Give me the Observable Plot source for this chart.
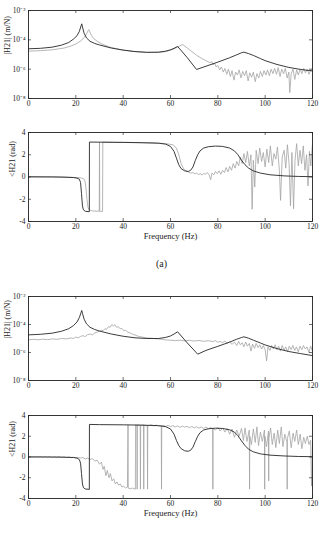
<!DOCTYPE html>
<html><head><meta charset="utf-8">
<script src="https://cdn.jsdelivr.net/npm/d3@7"></script>
<script src="https://cdn.jsdelivr.net/npm/@observablehq/plot@0.6"></script>
<style>
body{margin:0;background:#fff;width:323px;height:538px;position:relative;overflow:hidden;font-family:"Liberation Serif","Times New Roman",serif}
.p{position:absolute;left:0}
svg, svg text{font-family:"Liberation Serif","Times New Roman",serif !important}
#lab{position:absolute;left:0;width:323px;text-align:center;top:258px;font-size:10px;line-height:12px;color:#222}
</style></head><body>
<div id="c1" class="p" style="top:0px"></div>
<div id="c2" class="p" style="top:122px"></div>
<div id="lab">(a)</div>
<div id="c3" class="p" style="top:286px"></div>
<div id="c4" class="p" style="top:405px"></div>
<script>
// Frequency ticks (Hz)
const xTicks = [0, 20, 40, 60, 80, 100, 120];
// magnitude ticks (m/N) and labels
const magTicks = [1e-8, 1e-6, 1e-4, 1e-2];
const magTickLabels = ["10\u207B\u2078", "10\u207B\u2076", "10\u207B\u2074", "10\u207B\u00B2"];
// phase ticks (rad)
const phaseTicks = [-4, -2, 0, 2, 4];

// (a) magnitude, log10 of |H21| in m/N : [Hz, log10]
const magA_model = [[0,-4.61],[5,-4.58],[10,-4.50],[14,-4.36],[17,-4.18],[19,-3.95],[20.5,-3.72],[21.5,-3.42],[22.2,-3.05],[22.5,-2.91],[22.8,-3.12],[23.5,-3.55],[24.5,-3.87],[26,-4.10],[28,-4.25],[30,-4.35],[35,-4.56],[40,-4.70],[45,-4.80],[50,-4.85],[55,-4.84],[58,-4.77],[60,-4.68],[61.5,-4.58],[63,-4.45],[67,-5.2],[71,-6.02],[75,-5.80],[80,-5.52],[85,-5.22],[88,-5.02],[90,-4.88],[91,-4.84],[93,-4.94],[95,-5.06],[98,-5.28],[100,-5.42],[105,-5.68],[110,-5.88],[115,-6.02],[120,-6.12]];
const magA_test = [[0,-4.77],[5,-4.74],[10,-4.68],[15,-4.56],[18,-4.42],[20,-4.28],[22,-4.08],[23.5,-3.85],[24.5,-3.6],[25.2,-3.38],[25.5,-3.3],[25.9,-3.45],[26.6,-3.7],[27.5,-3.9],[29,-4.1],[31,-4.28],[34,-4.48],[37,-4.60],[40,-4.70],[45,-4.80],[50,-4.86],[55,-4.86],[58,-4.80],[61,-4.65],[63,-4.50],[64.5,-4.36],[65.3,-4.33],[67,-4.55],[69,-4.80],[71,-5.05],[73,-5.25],[75,-5.42],[76.5,-5.55],[77.5,-5.5],[78,-5.7],[78.7,-5.6],[79.3,-5.85],[80,-5.75],[80.8,-6.05],[81.5,-5.85],[82.3,-6.2],[83,-5.95],[83.8,-6.35],[84.5,-6.0],[85.3,-6.5],[86,-6.1],[86.8,-6.75],[87.5,-6.2],[88.3,-6.4],[89,-6.05],[89.8,-6.6],[90.5,-6.15],[91.3,-6.45],[92,-6.1],[92.8,-6.8],[93.5,-6.25],[94.3,-6.55],[95,-6.2],[95.8,-6.85],[96.5,-6.3],[97.3,-6.6],[98,-6.15],[98.8,-6.5],[99.5,-6.1],[100.3,-6.4],[101,-6.05],[101.8,-6.45],[102.5,-6.0],[103.3,-6.3],[104,-5.95],[104.8,-6.35],[105.5,-5.9],[106.3,-6.5],[107,-6.0],[107.8,-6.3],[108.5,-5.95],[109.3,-6.6],[110,-6.2],[110.4,-7.6],[111,-6.3],[111.8,-6.0],[112.5,-6.7],[113.3,-6.05],[114,-6.4],[114.8,-6.0],[115.5,-6.3],[116.3,-5.95],[117,-6.25],[117.8,-6.0],[118.5,-6.35],[119.3,-6.05],[120,-6.1]];

// (a) phase (rad)
const phA_model = [[0,0.02],[10,0.01],[15,-0.01],[19,-0.05],[20.5,-0.1],[21.5,-0.2],[22,-0.5],[22.4,-1.5],[22.8,-2.6],[23.2,-2.95],[24,-3.08],[25.7,-3.12],[25.75,3.14],[30,3.13],[40,3.11],[48,3.08],[55,3.04],[58,2.95],[60,2.75],[61.5,2.3],[62.5,1.7],[63.5,1.1],[64.5,0.75],[66,0.55],[67.5,0.5],[68.5,0.6],[69.5,0.9],[70.5,1.5],[71.5,2.0],[72.5,2.35],[74,2.6],[76,2.72],[79,2.78],[82,2.75],[85,2.6],[87,2.35],[88.5,2.0],[90,1.5],[91.5,1.1],[93,0.8],[95,0.55],[98,0.35],[102,0.2],[108,0.1],[114,0.05],[120,0.03]];
const phA_test = [[0,0.0],[10,-0.01],[18,-0.03],[22,-0.07],[23.3,-0.15],[23.9,-0.4],[24.3,-1.0],[24.7,-2.0],[25.1,-2.7],[25.6,-2.95],[27,-3.05],[29.9,-3.08],[30.0,3.14],[30.1,-3.08],[31.3,-3.1],[31.4,3.14],[36,3.12],[45,3.1],[52,3.07],[58,3.0],[61,2.9],[62.5,2.6],[63.5,2.0],[64.5,1.2],[65.5,0.75],[66.5,0.55],[67.5,0.45],[68.5,0.35],[69.5,0.4],[70.3,0.28],[71,0.35],[71.8,0.22],[72.5,0.3],[73.3,0.18],[74,0.32],[74.8,0.25],[75.5,0.4],[76.3,0.2],[77,-0.25],[77.5,0.35],[78.3,0.2],[79,0.5],[79.8,0.3],[80.5,0.55],[81.3,0.25],[82,0.6],[82.8,0.4],[83.5,0.85],[84.3,0.45],[85,0.95],[85.8,0.6],[86.5,1.2],[87.3,0.8],[88,1.4],[88.8,1.0],[89.5,1.8],[90.3,1.2],[91,2.1],[91.8,1.3],[92.5,2.3],[93.3,1.0],[94,2.0],[94.5,-2.9],[95,1.5],[95.6,-0.9],[96.2,2.4],[97,1.2],[97.7,2.6],[98.5,1.4],[99.2,2.2],[100,0.9],[100.7,2.5],[101.5,1.3],[102.2,2.8],[103,1.0],[103.7,2.1],[104.5,1.6],[105.2,2.7],[106,0.6],[106.5,-2.1],[107.2,1.8],[108,2.4],[108.7,0.8],[109.4,2.9],[110.1,1.2],[110.7,-2.6],[111.3,2.2],[112,-2.85],[112.6,1.5],[113.3,3.0],[114,1.0],[114.7,2.4],[115.4,1.2],[116.1,2.8],[116.8,0.6],[117.5,2.0],[118.1,-0.8],[118.7,2.3],[119.3,1.0],[120,3.0]];

// (b) magnitude, log10
const magB_model = [[0,-4.74],[5,-4.7],[10,-4.62],[14,-4.48],[17,-4.3],[19,-4.08],[20.5,-3.82],[21.5,-3.5],[22.2,-3.15],[22.5,-3.0],[22.8,-3.2],[23.5,-3.62],[24.5,-3.95],[26,-4.2],[28,-4.36],[30,-4.47],[35,-4.68],[40,-4.84],[45,-4.95],[50,-5.0],[55,-5.0],[58,-4.92],[60,-4.82],[61.5,-4.68],[63,-4.52],[67,-5.3],[71.5,-6.12],[75,-5.85],[80,-5.56],[85,-5.26],[88,-5.05],[90,-4.93],[91,-4.88],[93,-4.98],[95,-5.12],[98,-5.32],[100,-5.46],[105,-5.72],[110,-5.93],[115,-6.08],[120,-6.22]];
const magB_test = [[0,-5.1],[2,-5.06],[4,-5.09],[6,-5.05],[8,-5.08],[10,-5.03],[12,-5.06],[14,-5.0],[16,-5.03],[18,-4.96],[19,-5.0],[20,-4.9],[21,-4.95],[22,-4.85],[23,-4.8],[24,-4.86],[25,-4.72],[26,-4.68],[27,-4.74],[28,-4.6],[29,-4.55],[30,-4.48],[30.8,-4.4],[31.5,-4.45],[32.3,-4.3],[33,-4.35],[33.8,-4.15],[34.5,-4.2],[35.2,-4.0],[35.8,-4.1],[36.5,-4.02],[37.2,-4.2],[38,-4.15],[38.8,-4.32],[39.5,-4.28],[40.3,-4.45],[41,-4.42],[42,-4.55],[43,-4.6],[44,-4.7],[45,-4.75],[46,-4.82],[47,-4.86],[48,-4.9],[50,-4.96],[52,-4.98],[54,-5.02],[56,-5.05],[58,-5.1],[60,-5.12],[62,-5.15],[64,-5.12],[66,-5.17],[68,-5.13],[70,-5.18],[72,-5.14],[74,-5.2],[76,-5.16],[78,-5.22],[79,-5.15],[80,-5.28],[81,-5.2],[82,-5.3],[83,-5.18],[84,-5.35],[85,-5.22],[86,-5.42],[87,-5.25],[88,-5.5],[88.8,-5.2],[89.5,-5.45],[90.3,-5.3],[91,-5.6],[91.8,-5.25],[92.5,-5.55],[93.3,-5.35],[94,-5.9],[94.7,-5.4],[95.5,-5.7],[96.2,-5.35],[97,-5.65],[97.7,-5.45],[98.5,-5.75],[99.2,-5.5],[100,-5.8],[100.6,-6.6],[101.2,-5.6],[102,-5.85],[102.7,-5.5],[103.5,-5.75],[104.2,-5.45],[105,-5.8],[105.7,-5.55],[106.5,-5.9],[107.2,-5.5],[108,-5.85],[108.7,-5.6],[109.5,-5.95],[110.2,-5.55],[111,-5.8],[111.7,-5.5],[112.5,-5.85],[113.2,-5.6],[114,-5.95],[114.7,-5.55],[115.5,-5.8],[116.2,-5.5],[117,-5.75],[117.7,-5.6],[118.5,-6.0],[119.2,-5.55],[120,-5.9]];

// (b) phase (rad)
const phB_model = [[0,0.01],[10,0.0],[15,-0.02],[19,-0.05],[20.5,-0.1],[21.5,-0.25],[22,-0.6],[22.4,-1.6],[22.8,-2.6],[23.2,-2.95],[24,-3.08],[25.7,-3.12],[25.75,3.14],[30,3.12],[40,3.1],[48,3.07],[55,3.02],[58,2.92],[60,2.7],[61.5,2.2],[62.5,1.6],[63.5,1.1],[64.5,0.8],[66,0.6],[67.5,0.55],[68.5,0.65],[69.5,0.95],[70.5,1.5],[71.5,2.0],[72.5,2.35],[74,2.6],[76,2.72],[79,2.78],[82,2.75],[85,2.62],[87,2.4],[88.5,2.05],[90,1.55],[91.5,1.1],[93,0.75],[95,0.5],[98,0.3],[102,0.18],[108,0.1],[114,0.05],[120,0.03]];
const phB_test = [[0,0],[1,0.02],[2,-0.03],[3,0.03],[4,-0.02],[5,0.04],[6,-0.03],[7,0.02],[8,-0.02],[9,0.03],[10,-0.05],[11,0.02],[12,-0.03],[13,0.04],[14,-0.04],[15,0.02],[16,-0.05],[17,0.01],[18,-0.06],[19,-0.02],[20,-0.08],[21,-0.05],[22,-0.1],[23,-0.05],[24,-0.2],[25,-0.1],[26,-0.25],[27,-0.15],[28,-0.4],[29,-0.3],[30,-0.7],[30.8,-0.5],[31.5,-1.2],[32,-0.9],[32.7,-1.8],[33.3,-1.3],[34,-2.0],[34.6,-1.6],[35.3,-2.3],[36,-2.1],[36.7,-2.6],[37.4,-2.4],[38,-2.7],[38.8,-2.6],[39.5,-2.9],[40.2,-2.8],[41,-3.0],[41.8,-2.9],[42.05,3.1],[42.15,-3.0],[43,-3.05],[44,-3.0],[45.15,-3.1],[45.25,3.1],[45.8,3.05],[45.9,-3.1],[46.0,3.1],[47.2,3.05],[47.3,-3.1],[47.4,3.05],[48.6,3.1],[48.7,-3.1],[48.8,3.05],[50.2,3.0],[50.3,-3.1],[50.4,3.0],[51,3.05],[52,3.1],[53,3.0],[54,3.08],[55,2.98],[56.1,3.02],[56.2,-3.1],[56.3,3.0],[57,3.05],[58,2.95],[59,3.05],[60,2.92],[61,3.02],[62,2.9],[63,3.0],[64,2.85],[65,2.98],[66,2.88],[67,2.96],[68,2.82],[69,2.95],[70,2.8],[71,2.92],[72,2.78],[73,2.9],[74,2.75],[75,2.88],[76,2.72],[77,2.85],[77.8,2.7],[77.9,-3.1],[78,2.75],[79,2.6],[80,2.85],[81,2.5],[82,2.8],[83,2.4],[84,2.75],[85,2.2],[86,2.7],[87,1.9],[88,2.6],[89,2.0],[90,2.75],[90.8,1.6],[91.5,2.8],[92.3,1.5],[93.3,2.6],[93.4,-3.1],[93.5,2.0],[94.2,1.2],[95,2.7],[95.8,1.4],[96.5,2.9],[97.2,1.1],[98,2.4],[98.8,1.5],[99.7,2.6],[99.8,-3.1],[99.9,2.0],[100.6,1.0],[101.4,2.5],[101.5,-2.3],[101.6,1.8],[102.3,2.8],[103,1.2],[103.8,2.3],[104.5,0.9],[105.3,2.6],[106,1.3],[106.8,2.9],[107.5,1.0],[108.3,2.2],[109.2,1.4],[109.3,-3.1],[109.4,1.8],[110.2,2.5],[111,0.9],[111.8,2.3],[112.5,1.5],[113.3,2.6],[114,1.2],[114.8,2.2],[115.5,0.8],[116.3,1.9],[117,1.3],[117.8,2.0],[118.5,1.2],[119.2,1.6],[119.6,-2.8],[120,1.4]];

const W = 323, ML = 28, MR = 11, FW = W - ML - MR;
const FONT = "Liberation Serif, Times New Roman, serif";
const BLACK = "#262626", GRAY = "#a3a3a3";

function panel({model, test, log, fh, mb, ylabel, ylabelDx, xlabel}) {
  const mt = 10;
  const yv = log ? (d => Math.pow(10, d[1])) : (d => d[1]);
  const yTicks = log ? magTicks : phaseTicks;
  const marks = [
    Plot.line(test, {x: d => d[0], y: yv, stroke: GRAY, strokeWidth: 0.8}),
    Plot.line(model, {x: d => d[0], y: yv, stroke: BLACK, strokeWidth: 0.9}),
    Plot.ruleX(xTicks, {x: d => d, insetTop: fh - 3, stroke: "#333", strokeWidth: 0.7}),
    Plot.ruleX(xTicks, {x: d => d, insetBottom: fh - 3, stroke: "#333", strokeWidth: 0.7}),
    Plot.ruleY(yTicks, {y: d => d, insetRight: FW - 3, stroke: "#333", strokeWidth: 0.7}),
    Plot.ruleY(yTicks, {y: d => d, insetLeft: FW - 3, stroke: "#333", strokeWidth: 0.7}),
    Plot.frame({stroke: "#222", strokeWidth: 0.9}),
    Plot.axisX(xTicks, {tickSize: 0, tickPadding: 2, label: null, fontSize: 7.5, fill: "#222"}),
    Plot.axisY(yTicks, {tickSize: 0, tickPadding: 3, label: null, fontSize: 7.5, fill: "#222",
      tickFormat: log ? (d => magTickLabels[magTicks.indexOf(d)]) : (d => String(d))}),
    Plot.text([ylabel], {text: d => d, frameAnchor: "left", dx: ylabelDx, rotate: -90, fontSize: 8, fill: "#222"})
  ];
  if (xlabel) marks.push(Plot.text([xlabel], {text: d => d, frameAnchor: "bottom", dy: 17, fontSize: 8.5, fill: "#222"}));
  return Plot.plot({
    width: W, height: mt + fh + mb,
    marginLeft: ML, marginRight: MR, marginTop: mt, marginBottom: mb,
    style: {fontFamily: FONT, background: "white", color: "#222"},
    x: {domain: [0, 120]},
    y: log ? {type: "log", domain: [1e-8, 1e-2]} : {domain: [-4, 4]},
    marks
  });
}

document.getElementById("c1").append(panel({model: magA_model, test: magA_test, log: true, fh: 88, mb: 14, ylabel: "|H21| (m/N)", ylabelDx: -21}));
document.getElementById("c2").append(panel({model: phA_model, test: phA_test, log: false, fh: 89, mb: 26, ylabel: "<H21 (rad)", ylabelDx: -16, xlabel: "Frequency (Hz)"}));
document.getElementById("c3").append(panel({model: magB_model, test: magB_test, log: true, fh: 84, mb: 14, ylabel: "|H21| (m/N)", ylabelDx: -21}));
document.getElementById("c4").append(panel({model: phB_model, test: phB_test, log: false, fh: 83, mb: 26, ylabel: "<H21 (rad)", ylabelDx: -16, xlabel: "Frequency (Hz)"}));
</script>
</body></html>
